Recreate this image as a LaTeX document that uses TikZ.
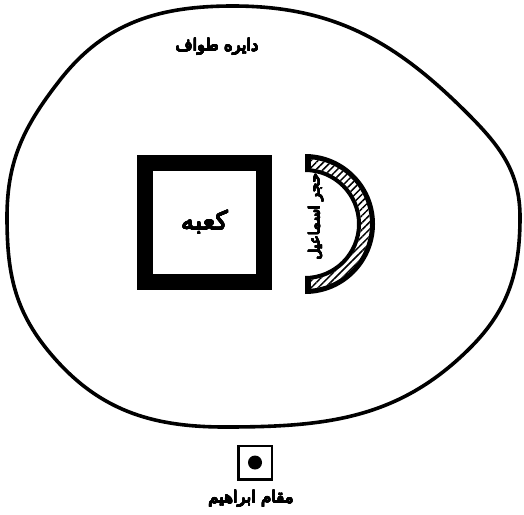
\documentclass[tikz,border=0pt]{standalone}
\usepackage{fontspec}
\usepackage[copies]{contour}
\usepackage{tikz}
\usetikzlibrary{patterns.meta}
\TeXXeTstate=1
\contourlength{0.45pt}
\newfontfamily\arabicfont[Script=Arabic]{DejaVu Sans}
\newcommand{\fa}[1]{\arabicfont\contour{black}{\beginR #1\endR}}

\begin{document}
\begin{tikzpicture}[x=1pt, y=-1pt,
	label/.style={inner sep=0pt, font=\fontsize{16.5}{18}\selectfont},
	kaababox/.style={draw, line width=16pt, minimum width=119pt, minimum height=119pt, inner sep=0pt, font=\fontsize{26}{28}\selectfont},
	maqambox/.style={draw, line width=2.5pt, minimum width=33.5pt, minimum height=33.5pt, inner sep=0pt}]
	\useasboundingbox (0,0) rectangle (524,514);
	% circuit of the tawaf
	\draw[line width=3.6pt] (233,6) to[out=0, in=135] (467,113)
		to[out=-45, in=90] (520,217)
		to[out=-90, in=45] (470,348)
		to[out=-135, in=0] (225,427)
		to[out=180, in=-50] (50,353)
		to[out=130, in=-90] (7,217)
		to[out=90, in=-128] (60,80)
		to[out=52, in=180] cycle;
	\node[label] (tawaf) at (217,47) {\fa{دایره طواف}};
	% kaaba
	\node[kaababox] (kaaba) at (204.5,222.5) {\fa{کعبه}};
	% hijr ismail
	\coordinate (hijr) at (305,224);
	\fill (305,154) arc[start angle=-90, end angle=90, radius=70] -- (305,289)
		arc[start angle=90, end angle=-90, radius=65] -- cycle;
	\path[pattern={Lines[angle=45, distance=5pt, line width=1.5pt]}] (305,159)
		arc[start angle=-90, end angle=90, radius=65] -- (305,280)
		arc[start angle=90, end angle=-90, radius=56] -- cycle;
	\fill (305,168) arc[start angle=-90, end angle=90, radius=56] -- (305,276)
		arc[start angle=90, end angle=-90, radius=52] -- cycle;
	\fill (305,154) rectangle (311,172);
	\fill (305,276) rectangle (311,294);
	\node[label, rotate=90, font=\fontsize{15}{17}\selectfont] (hijrlabel) at (316,217) {\fa{حجر اسماعیل}};
	% maqam ibrahim
	\node[maqambox] (maqam) at (255,462.5) {};
	\fill (maqam.center) circle (7pt);
	\node[label] (maqamlabel) at (251,499) {\fa{مقام ابراهیم}};
\end{tikzpicture}
\end{document}
